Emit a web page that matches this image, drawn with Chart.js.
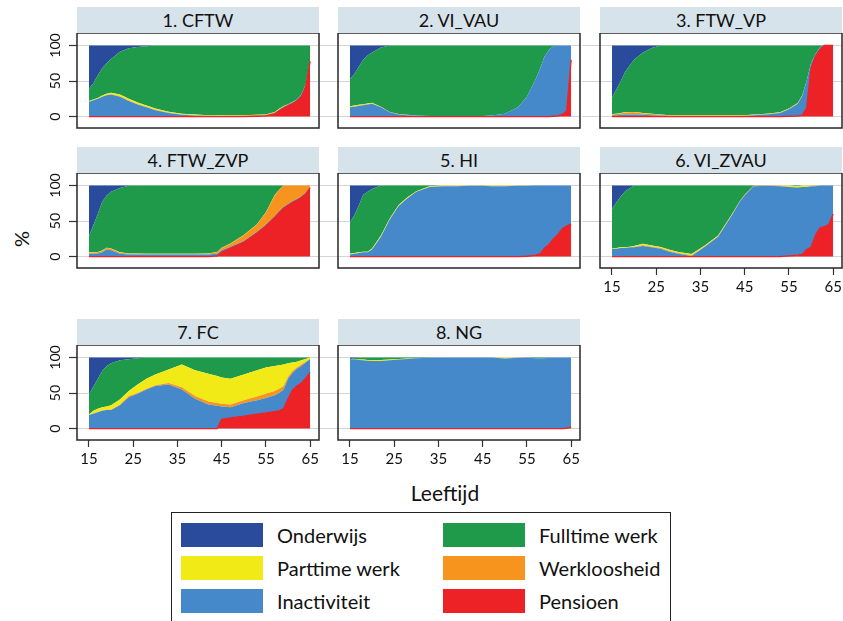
<!DOCTYPE html>
<html>
<head>
<meta charset="utf-8">
<title>Leeftijdsprofielen per cluster</title>
<script src="https://cdn.jsdelivr.net/npm/chart.js@4.4.1/dist/chart.umd.min.js"></script>
<style>
  html, body { margin: 0; padding: 0; background: #fff; }
  body {
    width: 843px; height: 621px; position: relative; overflow: hidden;
    font-family: Lato, "Open Sans", sans-serif; color: #111;
  }
  .strip {
    position: absolute; height: 26px; background: #d7e3eb;
    text-align: center; font-size: 18px; line-height: 27px;
  }
  .panel { position: absolute; }
  .panel canvas { display: block; }
  .ylab {
    position: absolute; left: 8px; top: 226px; width: 26px; height: 26px;
    font-size: 20px; line-height: 26px; text-align: center;
    transform: rotate(-90deg);
  }
  .xlab {
    position: absolute; left: 345px; top: 480px; width: 200px;
    text-align: center; font-size: 21px; line-height: 26px;
  }
  .legend {
    position: absolute; left: 171px; top: 512px; width: 500px; height: 130px;
    border: 1.5px solid #222; box-sizing: border-box;
  }
  .legend .sw { position: absolute; width: 82px; height: 24px; }
  .legend .txt { position: absolute; font-size: 20px; line-height: 24px; white-space: nowrap; }
</style>
</head>
<body>
<div class="ylab">%</div>
<div class="xlab">Leeftijd</div>
<div class="legend" id="legend"></div>

<script>
/* ---------- data ---------- */

const ages = [15,16,17,18,19,20,22,24,26,28,30,33,36,39,42,44,45,47,50,53,55,57,58,59,60,61,62,63,64,65];
const xTicks = [15,25,35,45,55,65];
const yTicks = [0,50,100];

const stateNames = ['Onderwijs','Fulltime werk','Parttime werk','Werkloosheid','Inactiviteit','Pensioen'];
const panelTitles = ['1. CFTW','2. VI_VAU','3. FTW_VP','4. FTW_ZVP','5. HI','6. VI_ZVAU','7. FC','8. NG'];

// 1. CFTW
const cftwOnderwijs = [61,53,42,32,25,19,9,4,2,1, 0,0,0,0,0,0,0,0,0,0, 0,0,0,0,0,0,0,0,0,0];
const cftwFulltime  = [17,23,32,38.5,43,47.5,60,71,78,83.5, 88.5,93,96,97,98,98.5,98.5,98,98,97.5, 97,93.5,89,85,82.5,79.5,76,69,55,21];
const cftwParttime  = [1,1,1,1.5,2,2.5,2.5,2.5,2.5,2, 2,1.5,1,1,0.5,0.5,0.5,0.5,0.5,0.5, 0.5,0.5,0.5,0.5,0,0,0,0,0,0];
const cftwWerkloos  = [0,0,0,0,0,0,0.5,0.5,0.5,0.5, 0.5,0.5,0.5,0.5,0.5,0.5,0.5,1,1,1, 1,1,1,1,0.5,0.5,0,0,0,0];
const cftwInactief  = [21,23,25,28,30,31,28,22,17,13, 9,5,2.5,1.5,1,0.5,0.5,0.5,0.5,0.5, 0.5,1,1.5,1.5,2,2,2,3,3,1];
const cftwPensioen  = [0,0,0,0,0,0,0,0,0,0, 0,0,0,0,0,0,0,0,0,0.5, 1,4,8,12,15,18,22,28,42,78];

// 2. VI_VAU
const vivauOnderwijs = [47,40,30,20,14,10,3,0,0,0, 0,0,0,0,0,0,0,0,0,0, 0,0,0,0,0,0,0,0,0,0];
const vivauFulltime  = [38.5,44.5,53.5,62.5,67.5,70.5,83,93.5,96.5,97.5, 98.5,99,99,99,99,99,99,98.5,96,87, 72,47,32,15,6,1,0,0,0,0];
const vivauParttime  = [1,1,1,1,1,1,0.5,0,0,0, 0,0,0,0,0,0,0,0,0,0, 0,0,0,0,0,0,0,0,0,0];
const vivauWerkloos  = [0.5,0.5,0.5,0.5,0.5,0.5,0.5,0.5,0.5,0.5, 0,0,0,0,0,0,0,0,0,0, 0,0,0,0,0,0,0,0,0,0];
const vivauInactief  = [13,14,15,16,17,18,13,6,3,2, 1.5,1,1,1,1,1,1,1.5,4,13, 28,53,68,85,94,98.5,99,97,92,20];
const vivauPensioen  = [0,0,0,0,0,0,0,0,0,0, 0,0,0,0,0,0,0,0,0,0, 0,0,0,0,0,0.5,1,3,8,80];

// 3. FTW_VP
const ftwvpOnderwijs = [73,62,50,37,28,20,10,3.5,0,0, 0,0,0,0,0,0,0,0,0,0, 0,0,0,0,0,0,0,0,0,0];
const ftwvpFulltime  = [23.5,34,45,57,65.5,73.5,85,92.5,97,98, 98,98,98,98,98,98,98,97,96,94, 88.5,81,70.5,50,25,12,3,0,0,0];
const ftwvpParttime  = [0.5,0.5,0.5,0.5,0.5,0.5,0.5,0.5,0.5,0.5, 0.5,0.5,0.5,0.5,0.5,0.5,0.5,0.5,0.5,0.5, 0.5,0.5,0.5,0,0,0,0,0,0,0];
const ftwvpWerkloos  = [1,1.5,2,2.5,3,3,2,1.5,1,0.5, 0.5,0.5,0.5,0.5,0.5,0.5,0.5,0.5,0.5,0.5, 0.5,0.5,0,0,0,0,0,0,0,0];
const ftwvpInactief  = [2,2,2.5,3,3,3,2.5,2,1.5,1, 1,1,1,1,1,1,1,2,3,5, 10,17,27,38,7,3,3,0,0,0];
const ftwvpPensioen  = [0,0,0,0,0,0,0,0,0,0, 0,0,0,0,0,0,0,0,0,0, 0.5,1,2,12,68,85,94,100,100,100];

// 4. FTW_ZVP
const ftwzvpOnderwijs = [71,56,40,23,14,9,3.5,0.5,0,0, 0,0,0,0,0,0,0,0,0,0, 0,0,0,0,0,0,0,0,0,0];
const ftwzvpFulltime  = [23,38,53.5,68.5,73.5,79.5,90.5,95,95.5,96, 96,96,96,96,95.5,93.5,87.5,81.5,69.5,54.5, 37.5,13.5,6,0,0,0,0,0,0,0];
const ftwzvpParttime  = [0.5,0.5,0.5,0.5,0.5,0.5,0.5,0.5,0.5,0.5, 0.5,0.5,0.5,0.5,0.5,0.5,0.5,0.5,0.5,0.5, 0.5,0.5,0,0,0,0,0,0,0,0];
const ftwzvpWerkloos  = [1.5,1.5,1.5,2,2,2,1.5,1,1,0.5, 0.5,0.5,0.5,0.5,1,2,3,4,8,10, 17,29,30,30,26,22,19,15,10,2];
const ftwzvpInactief  = [4,4,4.5,6,10,9,4,3,3,3, 3,3,3,3,3,3,3,2,2,2, 2,2,2,2,2,2,2,2,2,1];
const ftwzvpPensioen  = [0,0,0,0,0,0,0,0,0,0, 0,0,0,0,0,1,6,12,20,33, 43,55,62,68,72,76,79,83,88,97];

// 5. HI
const hiOnderwijs = [52,42,28,13,9,5,0,0,0,0, 0,0,0,0,0,0,0,0,0,0, 0,0,0,0,0,0,0,0,0,0];
const hiFulltime  = [44,53,66,80,84,83.5,70.5,46.5,27.5,16.5, 8,1,0,0,0,0,0,0,0,0, 0,0,0,0,0,0,0,0,0,0];
const hiParttime  = [1,1,1,1,1,1.5,1.5,1.5,1.5,1.5, 1,1,1,1,0.5,0.5,0.5,1,1,0.5, 0.5,0,0,0,0,0,0,0,0,0];
const hiWerkloos  = [0,0,0,0,0,0,0,0,0,0, 0,0,0,0,0,0,0,0,0,0, 0,0,0,0,0,0,0,0,0,0];
const hiInactief  = [3,4,5,6,6,10,28,52,71,82, 91,98,99,99,99.5,99.5,99.5,99,99,99.5, 99,98,96,88,83,75,69,61,57,54];
const hiPensioen  = [0,0,0,0,0,0,0,0,0,0, 0,0,0,0,0,0,0,0,0,0, 0.5,2,4,12,17,25,31,39,43,46];

// 6. VI_ZVAU
const vizvauOnderwijs = [33,24,15,8,4,0,0,0,0,0, 0,0,0,0,0,0,0,0,0,0, 0,0,0,0,0,0,0,0,0,0];
const vizvauFulltime  = [55,64,72,79,82,85,82,84.5,86.5,90.5, 93.5,96.5,84.5,70.5,41.5,21,13,0.5,0,0, 0,1,0,0,0,0.5,0,0,0,0];
const vizvauParttime  = [1,1,1,1,1,1.5,2,1.5,1.5,1.5, 1.5,1.5,1,1,1,0.5,0.5,0,0,0.5, 2,2,2,2,1,0.5,0,0,0,0];
const vizvauWerkloos  = [0,0,0,0,0,0.5,1,1,1,1, 1,1,0.5,0.5,0.5,0.5,0.5,0.5,0.5,0.5, 0,0,0,0,0,0,0,0,0,0];
const vizvauInactief  = [11,11,12,12,13,13,15,13,11,7, 4,1,14,28,57,78,86,99,99.5,99, 97,95,95,88,86,69,60,58,55,40];
const vizvauPensioen  = [0,0,0,0,0,0,0,0,0,0, 0,0,0,0,0,0,0,0,0,0, 1,2,3,10,13,30,40,42,45,60];

// 7. FC
const fcOnderwijs = [52,41,30,19,12,8,4,2.5,1,0, 0,0,0,0,0,0,0,0,0,0, 0,0,0,0,0,0,0,0,0,0];
const fcFulltime  = [28,34,42,51,57,59,55,44.5,37,30, 24,17,10,18,23,26,28,30,24,18, 14,12,11,10,8,7,6,4,2,0];
const fcParttime  = [0.5,3.5,4.5,4.5,4.5,6.5,7,7,12,14, 15,19,32,36,39,38,37,36,36,37, 37,35,33,30,19,12,8,6,4,2];
const fcWerkloos  = [0.5,0.5,0.5,0.5,0.5,0.5,1,2,1,1, 1,2,3,4,4,4,4,4,4,5, 6,6,6,5,3,3,2,2,1,0];
const fcInactief  = [19,21,23,25,26,26,33,44,49,55, 60,62,55,42,34,32,18,15,18.5,19.5, 21,23,25,27,28,24,24,24,22,19];
const fcPensioen  = [0,0,0,0,0,0,0,0,0,0, 0,0,0,0,0,0,13,15,17.5,20.5, 22,24,25,28,42,54,60,64,71,79];

// 8. NG
const ngOnderwijs = [2,1,0.5,0,0,0,0,0,0,0, 0,0,0,0,0,0,0,0,0,0, 0,0,0,0,0,0,0,0,0,0];
const ngFulltime  = [1,2,2.5,3,3.5,3.5,3.5,3,2,1.5, 1,0.5,0,0,0,0,0,0,0,0, 0,1,1.5,1,0,0,0,0,0,0];
const ngParttime  = [0,0,0.5,1,1,1.5,1.5,1,1,0.5, 0,0,0,0,0,0,0,0,1.5,0.5, 0,0,0,0,0,0,0,0,0,0];
const ngWerkloos  = [0,0,0,0,0,0,0,0,0,0, 0,0,0,0,0,0,0,0,0,0, 0,0,0,0,0,0,0,0,0,0];
const ngInactief  = [97,97,96.5,96,95.5,95,95,96,97,98, 99,99.5,100,100,100,100,100,100,98.5,99.5, 100,99,98.5,99,100,100,100,100,99.5,98];
const ngPensioen  = [0,0,0,0,0,0,0,0,0,0, 0,0,0,0,0,0,0,0,0,0, 0,0,0,0,0,0,0,0,0.5,2];

// per panel, in stateNames order
const panelSeries = [
  [cftwOnderwijs, cftwFulltime, cftwParttime, cftwWerkloos, cftwInactief, cftwPensioen],
  [vivauOnderwijs, vivauFulltime, vivauParttime, vivauWerkloos, vivauInactief, vivauPensioen],
  [ftwvpOnderwijs, ftwvpFulltime, ftwvpParttime, ftwvpWerkloos, ftwvpInactief, ftwvpPensioen],
  [ftwzvpOnderwijs, ftwzvpFulltime, ftwzvpParttime, ftwzvpWerkloos, ftwzvpInactief, ftwzvpPensioen],
  [hiOnderwijs, hiFulltime, hiParttime, hiWerkloos, hiInactief, hiPensioen],
  [vizvauOnderwijs, vizvauFulltime, vizvauParttime, vizvauWerkloos, vizvauInactief, vizvauPensioen],
  [fcOnderwijs, fcFulltime, fcParttime, fcWerkloos, fcInactief, fcPensioen],
  [ngOnderwijs, ngFulltime, ngParttime, ngWerkloos, ngInactief, ngPensioen]
];

/* ---------- styling / layout ---------- */

const stateColors = ['#2a4b9c', '#1f9a4a', '#f2ea16', '#f7941e', '#4589cb', '#ec2226'];
const stackOrder = [5, 4, 3, 2, 1, 0];   // bottom -> top: Pensioen ... Onderwijs

const colLeft = [77, 338, 600];
const rowTop = [33, 173, 345];
const BOX_W = 242, BOX_H = 95;
const AXIS_W = 60, AXIS_H = 45, PAD_R = 12;
const tickFont = { family: 'Lato', size: 15 };

// frame around each panel (R style box)
const boxPlugin = {
  id: 'panelBox',
  afterDraw(chart) {
    const { ctx, chartArea: a } = chart;
    ctx.save();
    ctx.strokeStyle = '#262626';
    ctx.lineWidth = 1.5;
    ctx.strokeRect(a.left, a.top, a.right - a.left, a.bottom - a.top);
    ctx.restore();
  }
};

// y tick labels turned 90deg (reading upwards), placed on the scale's own tick pixels
const yLabelPlugin = {
  id: 'yRotLabels',
  afterDraw(chart, args, opts) {
    if (!opts.show) return;
    const s = chart.scales.y, ctx = chart.ctx;
    ctx.save();
    ctx.font = '14px Lato';
    ctx.fillStyle = '#111';
    ctx.textAlign = 'center';
    ctx.textBaseline = 'middle';
    s.ticks.forEach(t => {
      ctx.save();
      ctx.translate(s.right - 22, s.getPixelForValue(t.value));
      ctx.rotate(-Math.PI / 2);
      ctx.fillText(String(t.value), 0, 0);
      ctx.restore();
    });
    ctx.restore();
  }
};

function makePanel(i) {
  const row = Math.floor(i / 3), col = i % 3;
  const left = colLeft[col], top = rowTop[row];
  const isLeft = col === 0;
  const isBottom = i >= 5;

  const strip = document.createElement('div');
  strip.className = 'strip';
  strip.style.left = left + 'px';
  strip.style.top = (top - 26) + 'px';
  strip.style.width = BOX_W + 'px';
  strip.textContent = panelTitles[i];
  document.body.appendChild(strip);

  const wrap = document.createElement('div');
  wrap.className = 'panel';
  wrap.style.left = (left - AXIS_W) + 'px';
  wrap.style.top = top + 'px';
  const canvas = document.createElement('canvas');
  canvas.width = AXIS_W + BOX_W + PAD_R;
  canvas.height = BOX_H + AXIS_H;
  wrap.appendChild(canvas);
  document.body.appendChild(wrap);

  const series = panelSeries[i];
  const datasets = stackOrder.map((k, n) => ({
    label: stateNames[k],
    data: ages.map((a, j) => ({ x: a, y: series[k][j] })),
    backgroundColor: stateColors[k],
    borderColor: stateColors[k],
    borderWidth: k === 5 ? 1.3 : 0,
    pointRadius: 0,
    tension: 0,
    fill: n === 0 ? 'origin' : '-1'
  }));

  new Chart(canvas, {
    type: 'line',
    data: { datasets },
    plugins: [boxPlugin, yLabelPlugin],
    options: {
      responsive: false,
      animation: false,
      devicePixelRatio: 1,
      layout: { padding: { left: 0, top: 0, right: PAD_R, bottom: 0 } },
      plugins: {
        legend: { display: false },
        tooltip: { enabled: false },
        yRotLabels: { show: isLeft }
      },
      scales: {
        x: {
          type: 'linear',
          min: 12.3,
          max: 67,
          afterBuildTicks: s => { s.ticks = xTicks.map(v => ({ value: v })); },
          afterFit: s => { s.height = AXIS_H; s.paddingLeft = 0; s.paddingRight = 0; },
          border: { display: false },
          grid: {
            display: isBottom,
            drawOnChartArea: false,
            drawTicks: true,
            tickLength: 7,
            tickColor: '#333',
            tickWidth: 1.2
          },
          ticks: {
            display: isBottom,
            autoSkip: false,
            maxRotation: 0,
            padding: 3,
            color: '#111',
            font: tickFont
          }
        },
        y: {
          stacked: true,
          min: -16,
          max: 117.5,
          afterBuildTicks: s => { s.ticks = yTicks.map(v => ({ value: v })); },
          afterFit: s => { s.width = AXIS_W; s.paddingTop = 0; s.paddingBottom = 0; },
          border: { display: false },
          grid: {
            color: '#d4d4d4',
            lineWidth: 1,
            drawTicks: true,
            tickLength: isLeft ? 8 : 18,
            tickColor: isLeft ? '#333' : '#d4d4d4',
            tickWidth: isLeft ? 1.2 : 1
          },
          ticks: { display: false }
        }
      }
    }
  });
}

panelTitles.forEach((t, i) => makePanel(i));

/* ---------- legend ---------- */
const legendOrder = [0, 1, 2, 3, 4, 5];   // two columns, filled row by row
const legend = document.getElementById('legend');
legendOrder.forEach((k, n) => {
  const r = Math.floor(n / 2), c = n % 2;
  const sw = document.createElement('div');
  sw.className = 'sw';
  sw.style.background = stateColors[k];
  sw.style.left = (c === 0 ? 9 : 271) + 'px';
  sw.style.top = (10 + r * 33) + 'px';
  legend.appendChild(sw);
  const tx = document.createElement('div');
  tx.className = 'txt';
  tx.textContent = stateNames[k];
  tx.style.left = (c === 0 ? 105 : 367) + 'px';
  tx.style.top = (10 + r * 33) + 'px';
  legend.appendChild(tx);
});
</script>
</body>
</html>
